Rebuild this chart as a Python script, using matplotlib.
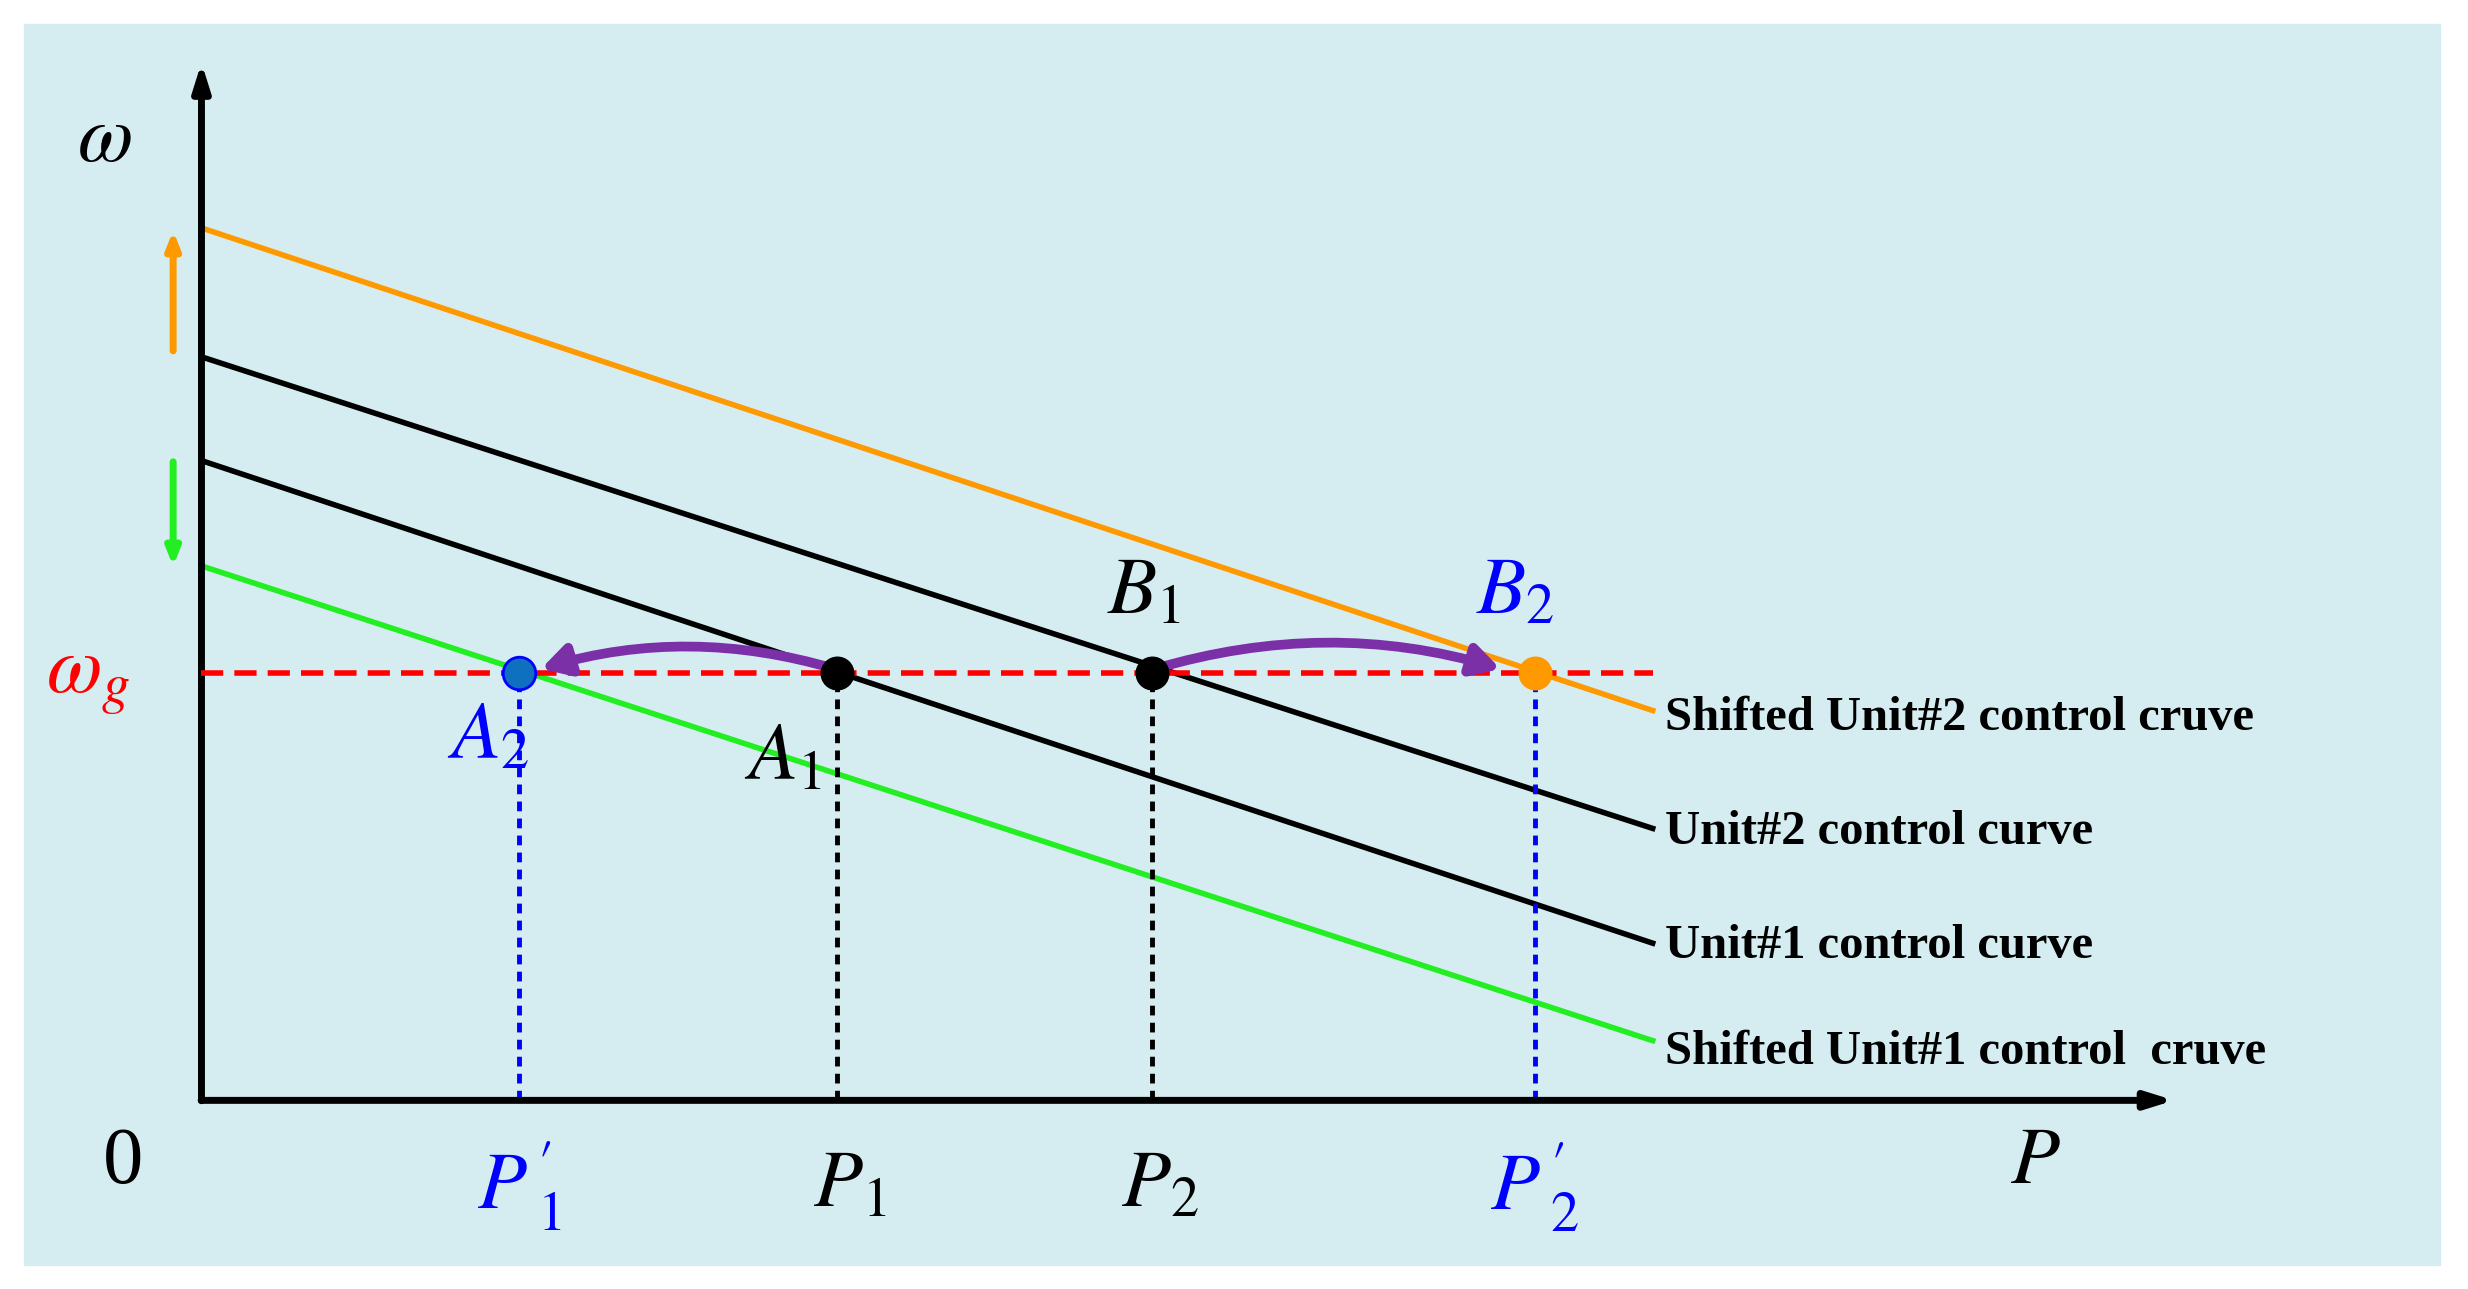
import matplotlib
matplotlib.use("Agg")
import matplotlib.pyplot as plt
from matplotlib.patches import FancyArrowPatch, Rectangle

# droop lines: (omega at P=0, omega at P_end)
P_END = 922
LINES = {
    "shift2": (555, 248),
    "unit2": (473, 173),
    "unit1": (407, 100),
    "shift1": (340, 38),
}
LINE_COLORS = {"shift2": "#FF9900", "unit2": "black", "unit1": "black", "shift1": "#22EE22"}
LABELS = ["Shifted Unit#2 control cruve", "Unit#2 control curve",
          "Unit#1 control curve", "Shifted Unit#1 control  cruve"]
LABEL_Y = [243, 171, 98, 31]
OMEGA_G = 272
P_POINTS = {"A2": 202, "A1": 404, "B1": 604, "B2": 847}

plt.rcParams["font.family"] = ["Liberation Serif", "DejaVu Serif"]
plt.rcParams["mathtext.fontset"] = "stix"

fig = plt.figure(figsize=(24.68, 12.89), dpi=100)
ax = fig.add_axes([0, 0, 1, 1])
ax.set_xlim(-128, 1440)
ax.set_ylim(-120, 700)
ax.axis("off")

ax.add_patch(Rectangle((-113, -105), 1535, 790, color="#D5EDF1", zorder=0))

# axes
ax.annotate("", xy=(0, 662), xytext=(0, -2),
            arrowprops=dict(arrowstyle="-|>,head_length=1.6,head_width=0.5", lw=5, color="black"))
ax.annotate("", xy=(1255, 0), xytext=(-2, 0),
            arrowprops=dict(arrowstyle="-|>,head_length=1.6,head_width=0.5", lw=5, color="black"))

for key, (y0, y1) in LINES.items():
    ax.plot([0, P_END], [y0, y1], color=LINE_COLORS[key], lw=4, zorder=2)
for lab, ly in zip(LABELS, LABEL_Y):
    ax.text(930, ly, lab, fontsize=35, fontweight="bold", va="center", ha="left")

ax.plot([0, P_END], [OMEGA_G, OMEGA_G], color="red", lw=4, ls=(0, (4, 2)), zorder=3)

# vertical projections
for name, c in [("A2", "blue"), ("A1", "black"), ("B1", "black"), ("B2", "blue")]:
    ax.plot([P_POINTS[name]] * 2, [0, OMEGA_G], color=c, lw=3.5, ls=(0, (2, 1.5)), zorder=2)

# curved arrows
for start, end, rad in [("A1", "A2", 0.15), ("B1", "B2", -0.15)]:
    ax.add_patch(FancyArrowPatch((P_POINTS[start], OMEGA_G + 2), (P_POINTS[end] + (12 if end == "A2" else -20), OMEGA_G + 2),
                                 connectionstyle=f"arc3,rad={rad}", arrowstyle="-|>,head_length=16,head_width=9",
                                 color="#7B30A8", lw=7, zorder=5))

ax.scatter([P_POINTS["A1"], P_POINTS["B1"]], [OMEGA_G] * 2, s=550, color="black", zorder=6)
ax.scatter([P_POINTS["A2"]], [OMEGA_G], s=550, color="#1070C0", edgecolor="blue", lw=2, zorder=6)
ax.scatter([P_POINTS["B2"]], [OMEGA_G], s=550, color="#FF9900", zorder=6)

# shift arrows
ax.annotate("", xy=(-18, 555), xytext=(-18, 475),
            arrowprops=dict(arrowstyle="-|>,head_length=1,head_width=0.4", lw=5, color="#FF9900"))
ax.annotate("", xy=(-18, 338), xytext=(-18, 408),
            arrowprops=dict(arrowstyle="-|>,head_length=1,head_width=0.4", lw=5, color="#22EE22"))

fs = 58
ax.text(-62, 610, r"$\omega$", fontsize=fs, ha="center", va="center")
ax.text(-72, OMEGA_G - 5, r"$\omega_g$", fontsize=fs, ha="center", va="center", color="red")
ax.text(-50, -40, "0", fontsize=fs, ha="center", va="center")
ax.text(1165, -40, r"$P$", fontsize=fs, ha="center", va="center")
ax.text(P_POINTS["A2"], -55, r"$P\,_1'$", fontsize=fs, ha="center", va="center", color="blue")
ax.text(P_POINTS["A1"] + 8, -55, r"$P_1$", fontsize=fs, ha="center", va="center")
ax.text(P_POINTS["B1"] + 5, -55, r"$P_2$", fontsize=fs, ha="center", va="center")
ax.text(P_POINTS["B2"], -55, r"$P\,_2'$", fontsize=fs, ha="center", va="center", color="blue")
ax.text(P_POINTS["A2"] - 20, OMEGA_G - 42, r"$A_2$", fontsize=fs, ha="center", va="center", color="blue")
ax.text(P_POINTS["A1"] - 35, OMEGA_G - 55, r"$A_1$", fontsize=fs, ha="center", va="center")
ax.text(P_POINTS["B1"] - 5, OMEGA_G + 50, r"$B_1$", fontsize=fs, ha="center", va="center")
ax.text(P_POINTS["B2"] - 12, OMEGA_G + 50, r"$B_2$", fontsize=fs, ha="center", va="center", color="blue")

fig.savefig("out.png", dpi=100, facecolor="white")
